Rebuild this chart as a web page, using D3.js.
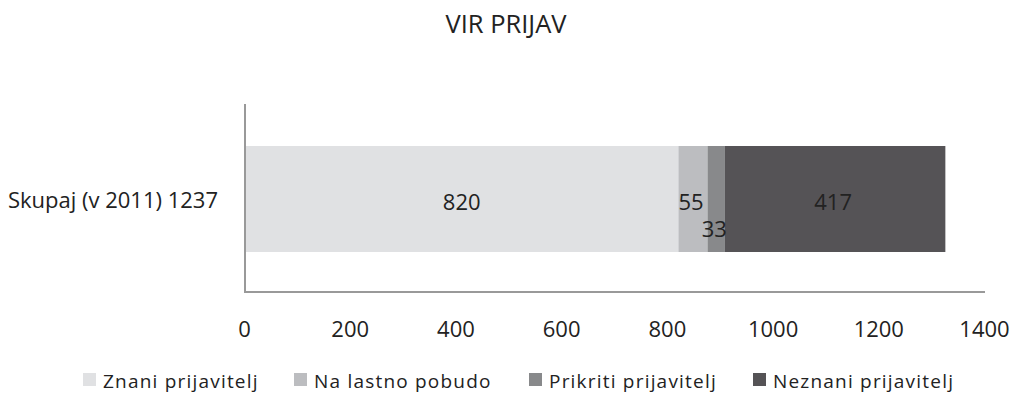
<!DOCTYPE html>
<html>
<head>
<meta charset="utf-8">
<script src="https://cdn.jsdelivr.net/npm/d3@7"></script>
<style>
  body { margin: 0; background: #fff; }
  svg { display: block; font-family: "Open Sans", sans-serif; }
</style>
</head>
<body>
<svg id="chart" width="1013" height="396"></svg>
<script>
// Sources of reports, one stacked bar
const categories = ["Skupaj (v 2011) 1237"];
const seriesNames = ["Znani prijavitelj", "Na lastno pobudo", "Prikriti prijavitelj", "Neznani prijavitelj"];
const seriesValues = [820, 55, 33, 417];
const seriesColors = ["#e0e1e3", "#bcbdc0", "#88898b", "#555356"];
const xTicks = [0, 200, 400, 600, 800, 1000, 1200, 1400];

const svg = d3.select("#chart");
const plot = { left: 245, right: 985, top: 104, bottom: 292 };

const x = d3.scaleLinear().domain([0, 1400]).range([plot.left, plot.right]);
const y = d3.scaleBand().domain(categories).range([plot.top, plot.bottom]).paddingInner(0.4).paddingOuter(0.3);

// Title
svg.append("text")
  .attr("x", 506).attr("y", 33)
  .attr("text-anchor", "middle")
  .attr("font-size", 25.5).attr("fill", "#222")
  .text("VIR PRIJAV");

// Stacked segments
let acc = 0;
const segs = seriesValues.map((v, i) => {
  const s = { name: seriesNames[i], v, x0: acc, x1: acc + v, color: seriesColors[i] };
  acc += v;
  return s;
});

const barTop = 146, barH = 106;
svg.append("g").selectAll("rect").data(segs).join("rect")
  .attr("x", d => x(d.x0))
  .attr("width", d => x(d.x1) - x(d.x0))
  .attr("y", barTop)
  .attr("height", barH)
  .attr("fill", d => d.color);

// Value labels
const baseY = 210;
const labelDy = [0, 0, 27, 0];
const labelDx = [0, -2, -2, -2];
svg.append("g").selectAll("text").data(segs).join("text")
  .attr("x", (d, i) => (x(d.x0) + x(d.x1)) / 2 + labelDx[i])
  .attr("y", (d, i) => baseY + labelDy[i])
  .attr("text-anchor", "middle")
  .attr("font-size", 22).attr("fill", "#222")
  .text(d => d.v);

// Axis lines
svg.append("line")
  .attr("x1", x(0)).attr("x2", x(0))
  .attr("y1", plot.top).attr("y2", plot.bottom)
  .attr("stroke", "#999").attr("stroke-width", 2);
svg.append("line")
  .attr("x1", x(0) - 1).attr("x2", x(1400))
  .attr("y1", plot.bottom).attr("y2", plot.bottom)
  .attr("stroke", "#999").attr("stroke-width", 2);

// X axis tick labels
const xAxis = d3.axisBottom(x).tickValues(xTicks).tickFormat(d3.format("d")).tickSize(0).tickPadding(0);
const gx = svg.append("g").attr("transform", "translate(-1,0)").call(xAxis);
gx.select(".domain").remove();
gx.selectAll("text")
  .attr("y", 337).attr("dy", null)
  .attr("font-size", 22).attr("fill", "#222")
  .attr("font-family", "Open Sans, sans-serif");

// Category label
svg.append("text")
  .attr("x", 218).attr("y", 208)
  .attr("text-anchor", "end")
  .attr("font-size", 22).attr("fill", "#222")
  .text(categories[0]);

// Legend
const legendX = [83, 294, 529, 753];
const lg = svg.append("g").selectAll("g").data(seriesNames).join("g")
  .attr("transform", (d, i) => `translate(${legendX[i]},388)`);
lg.append("rect").attr("x", 0).attr("y", -15).attr("width", 13).attr("height", 13)
  .attr("fill", (d, i) => seriesColors[i]);
lg.append("text").attr("x", 20).attr("y", 0)
  .attr("font-size", 19).attr("fill", "#222")
  .attr("letter-spacing", 1.2)
  .text(d => d);
</script>
</body>
</html>
